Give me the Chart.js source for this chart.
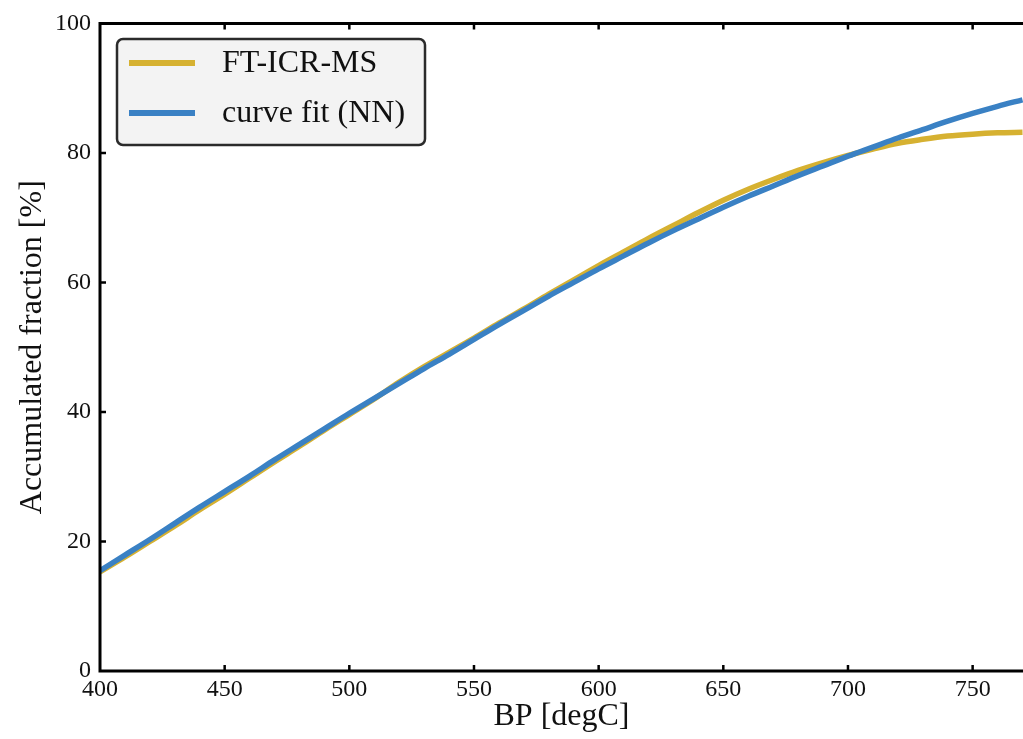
<!DOCTYPE html>
<html>
<head>
<meta charset="utf-8">
<script src="https://cdn.jsdelivr.net/npm/chart.js@4"></script>
<style>
  html, body { margin: 0; padding: 0; background: #ffffff; }
  #wrap { width: 1023px; height: 739px; }
</style>
</head>
<body>
<div id="wrap"><canvas id="c" width="1023" height="739"></canvas></div>
<script>
// ---- data ----
const bpBlue = [400,410,420,430,440,450,460,470,480,490,500,510,520,530,540,550,560,570,580,590,600,610,620,630,640,650,660,670,680,690,700,710,720,730,740,750,760,770];
const fitNN  = [15.5,17.9,20.3,22.8,25.3,27.7,30.1,32.6,35.0,37.4,39.8,42.1,44.4,46.7,48.9,51.2,53.5,55.7,57.9,60.0,62.1,64.1,66.1,68.0,69.8,71.6,73.3,74.9,76.5,78.0,79.5,80.9,82.3,83.6,84.9,86.1,87.2,88.2];
const bpYellow = [400,410,420,430,440,450,460,470,480,490,500,510,520,530,540,550,560,570,580,590,600,610,620,630,640,650,660,670,680,690,700,710,720,730,740,750,760,770];
const ftIcrMs  = [15.3,17.6,20.0,22.4,24.9,27.3,29.8,32.3,34.7,37.2,39.6,42.0,44.6,47.0,49.2,51.4,53.7,55.9,58.2,60.4,62.6,64.7,66.8,68.8,70.8,72.7,74.4,75.9,77.3,78.5,79.6,80.6,81.5,82.1,82.6,82.9,83.1,83.2];
const xTicks = [400,450,500,550,600,650,700,750];
const yTicks = [0,20,40,60,80,100];
const seriesNames = ['FT-ICR-MS','curve fit (NN)'];
const seriesColors = ['#D6B131','#3A81C4'];

const FONT = '"Liberation Serif", "Times New Roman", serif';

function pts(xs, ys){ return xs.map((x,i)=>({x:x, y:ys[i]})); }

const axesPlugin = {
  id: 'axesPlugin',
  afterDatasetsDraw(chart){
    const ctx = chart.ctx;
    const a = chart.chartArea;
    const xs = chart.scales.x, ys = chart.scales.y;
    ctx.save();
    ctx.strokeStyle = '#000';
    ctx.lineWidth = 3;
    ctx.lineCap = 'square';
    ctx.beginPath();
    ctx.moveTo(a.left, a.top); ctx.lineTo(a.right + 5, a.top);
    ctx.moveTo(a.left, a.top); ctx.lineTo(a.left, a.bottom);
    ctx.moveTo(a.left, a.bottom); ctx.lineTo(a.right + 5, a.bottom);
    ctx.stroke();
    ctx.lineWidth = 2.5;
    ctx.lineCap = 'butt';
    ctx.beginPath();
    xTicks.forEach(v => {
      if (v === xTicks[0]) return;
      const px = xs.getPixelForValue(v);
      ctx.moveTo(px, a.bottom); ctx.lineTo(px, a.bottom - 6);
      ctx.moveTo(px, a.top); ctx.lineTo(px, a.top + 6);
    });
    yTicks.forEach(v => {
      if (v === 0 || v === 100) return;
      const py = ys.getPixelForValue(v);
      ctx.moveTo(a.left, py); ctx.lineTo(a.left + 6, py);
    });
    ctx.stroke();
    ctx.restore();
  }
};

const legendPlugin = {
  id: 'legendPlugin',
  afterDraw(chart){
    const ctx = chart.ctx;
    ctx.save();
    const bx = 117, by = 39, bw = 308, bh = 106, r = 6;
    ctx.beginPath();
    ctx.moveTo(bx + r, by);
    ctx.lineTo(bx + bw - r, by); ctx.arcTo(bx + bw, by, bx + bw, by + r, r);
    ctx.lineTo(bx + bw, by + bh - r); ctx.arcTo(bx + bw, by + bh, bx + bw - r, by + bh, r);
    ctx.lineTo(bx + r, by + bh); ctx.arcTo(bx, by + bh, bx, by + bh - r, r);
    ctx.lineTo(bx, by + r); ctx.arcTo(bx, by, bx + r, by, r);
    ctx.closePath();
    ctx.fillStyle = 'rgba(242,242,242,0.95)';
    ctx.fill();
    ctx.lineWidth = 2.5;
    ctx.strokeStyle = '#2b2b2b';
    ctx.stroke();
    const rows = [63, 113];
    chart.data.datasets.forEach((ds, i) => {
      ctx.beginPath();
      ctx.lineWidth = 6;
      ctx.strokeStyle = ds.borderColor;
      ctx.moveTo(129, rows[i]); ctx.lineTo(195, rows[i]);
      ctx.stroke();
      ctx.fillStyle = '#111';
      ctx.font = '32px ' + FONT;
      ctx.textBaseline = 'middle';
      ctx.textAlign = 'left';
      ctx.fillText(ds.label, 222, rows[i] + 1);
    });
    ctx.restore();
  }
};

new Chart(document.getElementById('c'), {
  type: 'line',
  data: {
    datasets: [
      { label: seriesNames[0], data: pts(bpYellow, ftIcrMs), borderColor: seriesColors[0], borderWidth: 5.5, pointRadius: 0, cubicInterpolationMode: 'monotone', fill: false, order: 2 },
      { label: seriesNames[1], data: pts(bpBlue, fitNN), borderColor: seriesColors[1], borderWidth: 5.5, pointRadius: 0, cubicInterpolationMode: 'monotone', fill: false, order: 1 }
    ]
  },
  options: {
    responsive: false,
    animation: false,
    devicePixelRatio: 1,
    layout: { padding: { top: 22, right: 0, left: 0, bottom: 0 } },
    plugins: { legend: { display: false }, tooltip: { enabled: false } },
    scales: {
      x: {
        type: 'linear',
        min: 400, max: 770.2,
        afterFit(s){ s.height = 68; },
        afterBuildTicks(s){ s.ticks = xTicks.map(v => ({value: v})); },
        grid: { display: false, drawTicks: false },
        border: { display: false },
        ticks: { color: '#111', font: { family: FONT, size: 24 }, padding: 4, maxRotation: 0, autoSkip: false },
        title: { display: true, text: 'BP [degC]', color: '#111', font: { family: FONT, size: 32 }, padding: { top: 0, bottom: 3 } }
      },
      y: {
        min: 0, max: 100,
        afterFit(s){ s.width = 100; },
        afterBuildTicks(s){ s.ticks = yTicks.map(v => ({value: v})); },
        grid: { display: false, drawTicks: false },
        border: { display: false },
        ticks: { color: '#111', font: { family: FONT, size: 24 }, padding: 9 },
        title: { display: true, text: 'Accumulated fraction [%]', color: '#111', font: { family: FONT, size: 32 }, padding: { top: 13, bottom: 0 } }
      }
    }
  },
  plugins: [axesPlugin, legendPlugin]
});
</script>
</body>
</html>
